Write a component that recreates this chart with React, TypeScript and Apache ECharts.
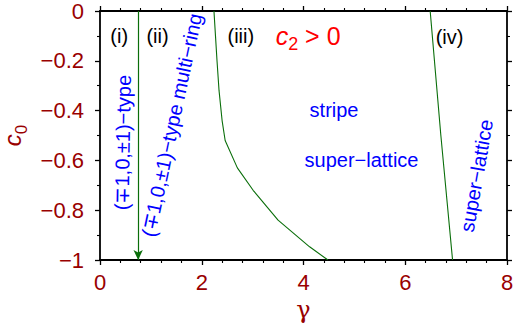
import React, { useEffect, useRef } from "react";
import * as echarts from "echarts";

// x: gamma, y: c0
const xTicks = [0, 2, 4, 6, 8];
const yTicks = [0, -0.2, -0.4, -0.6, -0.8, -1];

// boundary (i)/(ii): vertical line at gamma = 0.75 with arrow
const boundary1Gamma = [0.75, 0.75];
const boundary1C0 = [0, -1];

// boundary (ii)/(iii)
const boundary2Gamma = [2.24, 2.27, 2.3, 2.34, 2.4, 2.46, 2.7, 3.01, 3.5, 4.12, 4.48];
const boundary2C0 = [0, -0.1, -0.2, -0.32, -0.44, -0.52, -0.63, -0.72, -0.84, -0.947, -1];

// boundary (iii)/(iv)
const boundary3Gamma = [6.49, 6.7, 6.93];
const boundary3C0 = [0, -0.5, -1];

// annotations: text, gamma, c0, rotation (deg), kind
const annText = ["(i)", "(ii)", "(iii)", "(iv)", "stripe", "super\u2212lattice", "super\u2212lattice",
  "(\u22131,0,\u00b11)\u2212type", "(\u22131,0,\u00b11)\u2212type multi\u2212ring"];
const annGamma = [0.377, 1.13, 2.768, 6.87, 4.6, 5.14, 7.4, 0.446, 1.41];
const annC0 = [-0.102, -0.102, -0.102, -0.106, -0.396, -0.597, -0.661, -0.528, -0.458];
const annRot = [0, 0, 0, 0, 0, 0, 80, 89, 78];
const annKind = ["region", "region", "region", "region", "phase", "phase", "phase", "phase", "phase"];

const FONT = "'Liberation Sans', Arial, Helvetica, sans-serif";
const DARKRED = "#990000";
const GREEN = "#0a6e0a";
const BLUE = "#0000ff";

const fmtY = (v: number) => {
  if (Math.abs(v) < 1e-9) return "0";
  return String(+v.toFixed(1)).replace("-", "\u2212");
};

export default function App() {
  const ref = useRef<HTMLDivElement>(null);
  useEffect(() => {
    if (!ref.current) return;
    const chart = echarts.init(ref.current, null, { renderer: "svg" });
    const axisLine = { show: true, onZero: false, lineStyle: { color: "#000", width: 1.8 } };
    const tick = { show: true, inside: false, length: 5, lineStyle: { color: "#000", width: 1.3 } };
    const minor = (n: number) => ({ show: true, splitNumber: n, length: 3, lineStyle: { color: "#000", width: 1.1 } });
    chart.setOption({
      animation: false,
      grid: { left: 100, right: 23, top: 11, bottom: 69, containLabel: false, outerBoundsMode: "none" },
      xAxis: [
        {
          type: "value", min: xTicks[0], max: xTicks[xTicks.length - 1], interval: 2,
          axisLine, axisTick: tick, minorTick: minor(5), splitLine: { show: false },
          axisLabel: { color: DARKRED, fontSize: 22, fontFamily: FONT, margin: 11 },
          name: "\u03b3", nameLocation: "middle", nameGap: 34,
          nameTextStyle: { color: DARKRED, fontSize: 24, fontFamily: "'DejaVu Serif', 'Liberation Serif', serif" },
        },
        {
          type: "value", position: "top", min: xTicks[0], max: xTicks[xTicks.length - 1], interval: 2,
          axisLine, axisTick: tick, minorTick: minor(5), splitLine: { show: false },
          axisLabel: { show: false },
        },
      ],
      yAxis: [
        {
          type: "value", min: yTicks[yTicks.length - 1], max: yTicks[0], interval: 0.2,
          axisLine, axisTick: tick, minorTick: minor(2), splitLine: { show: false },
          axisLabel: { color: DARKRED, fontSize: 22, fontFamily: FONT, margin: 16, formatter: fmtY },
          name: "{c|c}{s|0}", nameLocation: "middle", nameGap: 63, nameRotate: 90,
          nameTextStyle: {
            rich: {
              c: { color: DARKRED, fontSize: 24, fontStyle: "italic", fontFamily: FONT, lineHeight: 26, verticalAlign: "middle" },
              s: { color: DARKRED, fontSize: 17, fontFamily: FONT, lineHeight: 26, verticalAlign: "bottom", padding: [0, 0, -4, 0] },
            },
          },
        },
        {
          type: "value", position: "right", min: yTicks[yTicks.length - 1], max: yTicks[0], interval: 0.2,
          axisLine, axisTick: tick, minorTick: minor(2), splitLine: { show: false },
          axisLabel: { show: false },
        },
      ],
      series: [
        {
          type: "line", xAxisIndex: 0, yAxisIndex: 0, symbol: "none",
          lineStyle: { width: 0 }, data: [],
          markLine: {
            silent: true, symbol: ["none", "arrow"], symbolSize: [7, 10], label: { show: false },
            lineStyle: { color: GREEN, width: 1.2, type: "solid" },
            data: [[{ coord: [boundary1Gamma[0], boundary1C0[0]] }, { coord: [boundary1Gamma[1], boundary1C0[1]] }]],
          },
        },
        {
          type: "line", symbol: "none", lineStyle: { color: GREEN, width: 1.1 },
          data: boundary2Gamma.map((g, i) => [g, boundary2C0[i]]),
        },
        {
          type: "line", symbol: "none", lineStyle: { color: GREEN, width: 1.1 },
          data: boundary3Gamma.map((g, i) => [g, boundary3C0[i]]),
        },
      ],
    });

    const graphics: any[] = annText.map((t, i) => {
      const [px, py] = chart.convertToPixel({ xAxisIndex: 0, yAxisIndex: 0 }, [annGamma[i], annC0[i]]) as number[];
      const region = annKind[i] === "region";
      return {
        type: "text", x: px, y: py, rotation: (annRot[i] * Math.PI) / 180,
        style: {
          text: t, align: "center", verticalAlign: "middle",
          fill: region ? "#000" : BLUE, fontSize: 20, fontFamily: FONT,
        },
      };
    });
    const [rx, ry] = chart.convertToPixel({ xAxisIndex: 0, yAxisIndex: 0 }, [4.09, -0.1]) as number[];
    graphics.push({
      type: "text", x: rx, y: ry,
      style: {
        text: "{c|c}{s|2}{n| > 0}", align: "center", verticalAlign: "middle",
        rich: {
          c: { fill: "#ff0000", fontSize: 25, fontStyle: "italic", fontFamily: FONT, lineHeight: 30, verticalAlign: "middle" },
          s: { fill: "#ff0000", fontSize: 18, fontFamily: FONT, lineHeight: 30, verticalAlign: "bottom", padding: [0, 0, -2, 0] },
          n: { fill: "#ff0000", fontSize: 25, fontFamily: FONT, lineHeight: 30, verticalAlign: "middle" },
        },
      },
    });
    chart.setOption({ graphic: graphics });
    return () => chart.dispose();
  }, []);
  return <div ref={ref} style={{ width: 530, height: 329, position: "absolute", left: 0, top: 0 }} />;
}
